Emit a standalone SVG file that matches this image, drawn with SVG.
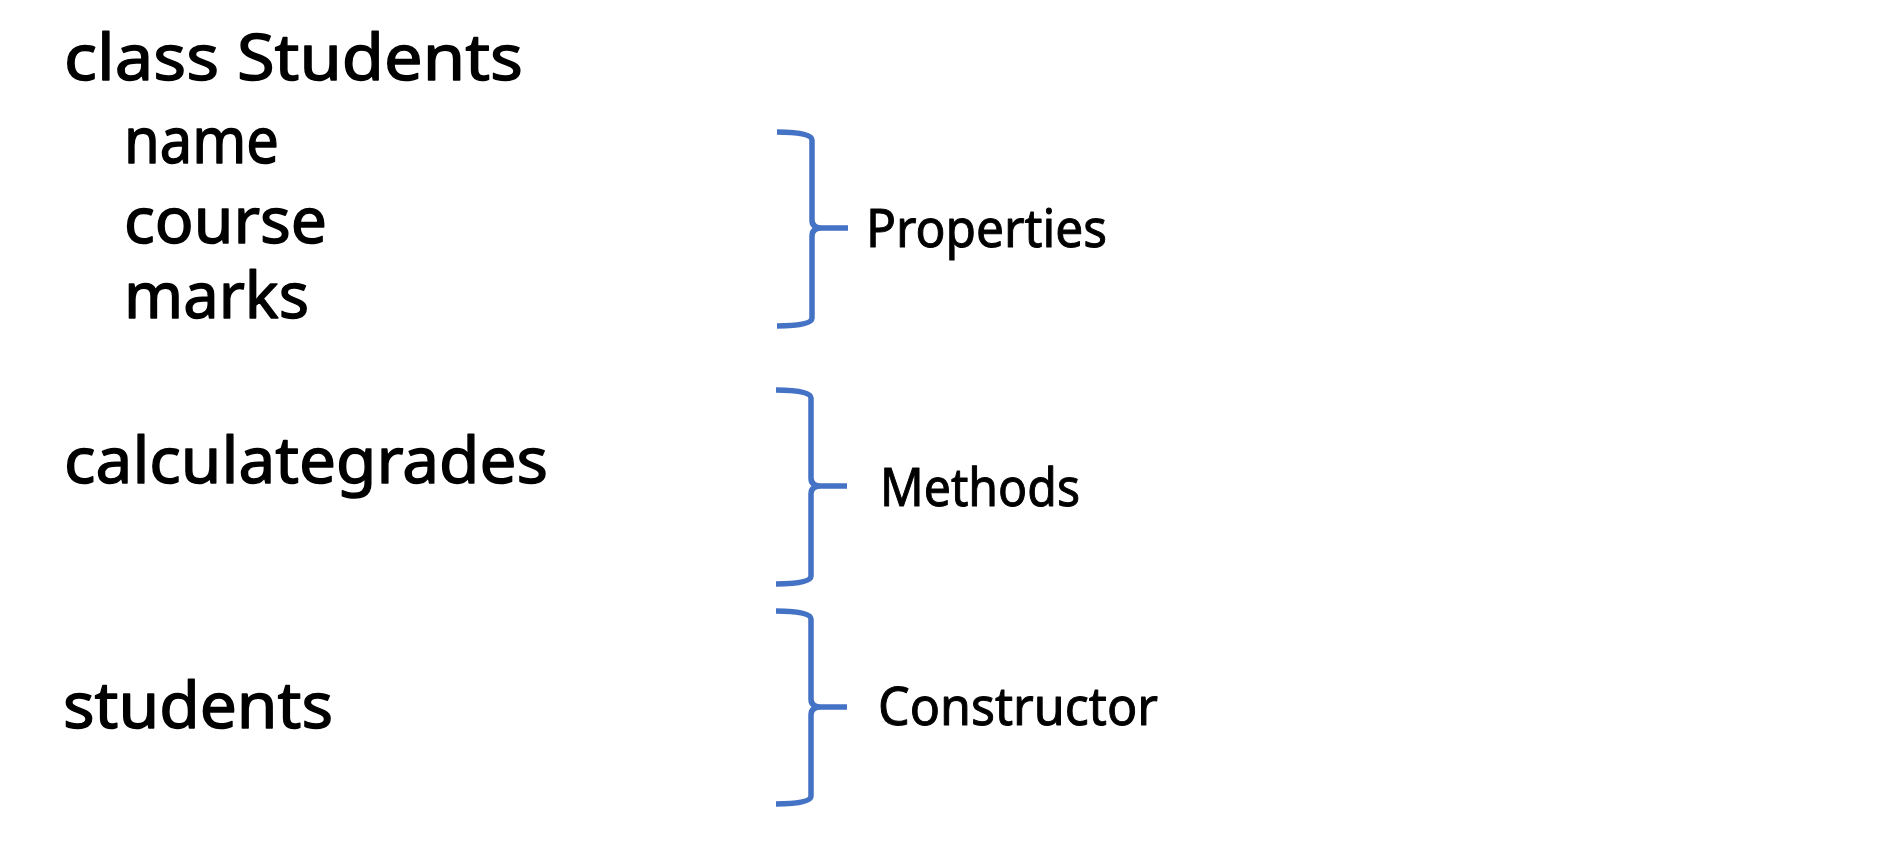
<svg xmlns="http://www.w3.org/2000/svg" width="1886" height="852" viewBox="0 0 1886 852">
<style>
.code{font-family:"Comic Sans MS","Noto Sans","DejaVu Sans",sans-serif;font-size:64px;fill:#000;stroke:#000;stroke-width:1.4px;stroke-linejoin:round}
.lbl{font-family:"Comic Sans MS","Noto Sans","DejaVu Sans",sans-serif;font-size:52px;fill:#000;stroke:#000;stroke-width:1px;stroke-linejoin:round}
.brace{fill:none;stroke:#4472C4;stroke-width:5.5;stroke-linecap:butt;stroke-linejoin:round}
</style>
<rect width="1886" height="852" fill="#fff"/>
<g id="class-students"><text class="code" x="64" y="80" textLength="459" lengthAdjust="spacingAndGlyphs">class Students</text></g>
<g id="name"><text class="code" x="124" y="163" textLength="155" lengthAdjust="spacingAndGlyphs">name</text></g>
<g id="course"><text class="code" x="124" y="243" textLength="203" lengthAdjust="spacingAndGlyphs">course</text></g>
<g id="marks"><text class="code" x="124" y="318" textLength="185" lengthAdjust="spacingAndGlyphs">marks</text></g>
<g id="calculategrades"><text class="code" x="64" y="483" textLength="484" lengthAdjust="spacingAndGlyphs">calculategrades</text></g>
<g id="students"><text class="code" x="63" y="728" textLength="270" lengthAdjust="spacingAndGlyphs">students</text></g>
<g id="connectors">
<path class="brace" d="M777,132 C797,132 812,134 812,140 L812,220 Q812,228 822,228 L848,228 M822,228 Q812,228 812,236 L812,318 C812,324 797,326 777,326"/>
<path class="brace" d="M776,390 C796,390 811,392 811,398 L811,478 Q811,486 821,486 L847,486 M821,486 Q811,486 811,494 L811,576 C811,582 796,584 776,584"/>
<path class="brace" d="M776,611 C796,611 811,613 811,619 L811,699 Q811,707 821,707 L847,707 M821,707 Q811,707 811,715 L811,796 C811,802 796,804 776,804"/>
</g>
<g id="properties"><text class="lbl" x="866" y="247" textLength="241" lengthAdjust="spacingAndGlyphs">Properties</text></g>
<g id="methods"><text class="lbl" x="880" y="506" textLength="200" lengthAdjust="spacingAndGlyphs">Methods</text></g>
<g id="constructor"><text class="lbl" x="878" y="725" textLength="280" lengthAdjust="spacingAndGlyphs">Constructor</text></g>
</svg>
